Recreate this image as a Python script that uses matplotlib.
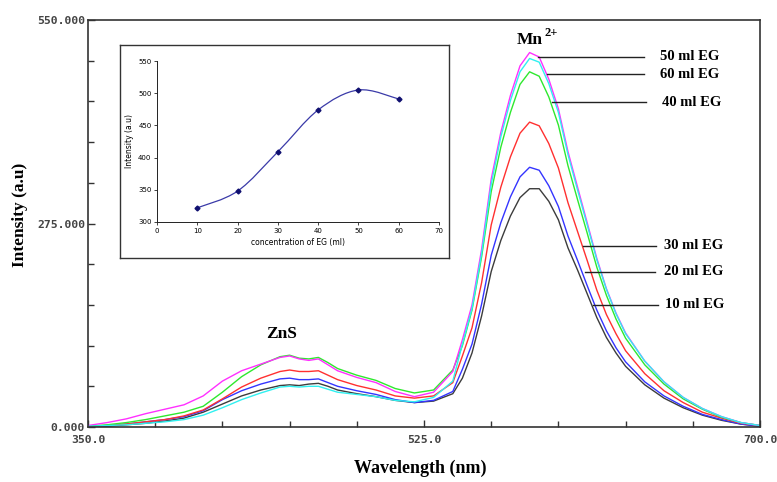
import matplotlib

matplotlib.use("Agg")

import matplotlib.pyplot as plt
import numpy as np
from matplotlib.patches import PathPatch
from matplotlib.path import Path
from matplotlib.ticker import MultipleLocator

# emission spectra, values
wavelength = [
    350, 360, 370, 380, 390, 400, 410, 420, 430, 440, 450, 455, 460, 465,
    470, 475, 480, 490, 500, 510, 520, 530, 540, 545, 550, 555, 560, 565,
    570, 575, 580, 585, 590, 595, 600, 605, 610, 615, 620, 625, 630, 640,
    650, 660, 670, 680, 690, 700,
]

eg_10ml = [
    0, 1, 3, 5, 8, 12, 20, 31, 42, 50, 56, 57, 56, 58,
    59, 55, 50, 45, 41, 36, 33, 35, 45, 66, 100, 150, 210, 252,
    285, 310, 322, 322, 305, 280, 242, 212, 180, 148, 121, 100, 82, 57,
    39, 26, 16, 9, 4, 1,
]
eg_20ml = [
    1, 2, 4, 7, 10, 14, 22, 37, 49, 58, 65, 66, 64, 64,
    65, 60, 55, 49, 44, 37, 33, 36, 48, 78, 112, 166, 232, 276,
    311, 338, 351, 347, 326, 298, 258, 225, 191, 158, 130, 107, 88, 61,
    42, 28, 17, 10, 4, 1,
]
eg_30ml = [
    1, 2, 4, 7, 10, 15, 23, 38, 54, 66, 75, 77, 75, 75,
    76, 70, 64, 56, 50, 42, 39, 42, 60, 96, 134, 195, 273, 324,
    365, 397, 412, 407, 383, 350, 303, 264, 225, 185, 152, 126, 103, 72,
    49, 33, 20, 12, 5, 2,
]
eg_40ml = [
    1, 3, 6, 10, 15, 20, 28, 47, 68, 84, 95, 97, 93, 92,
    94, 87, 79, 70, 63, 52, 46, 50, 77, 110, 158, 230, 318, 378,
    425, 463, 480, 474, 446, 408, 353, 307, 262, 216, 178, 146, 120, 84,
    58, 38, 24, 13, 6, 2,
]
eg_50ml = [
    2, 6, 11, 18, 24, 30, 42, 62, 76, 85, 94, 96, 92, 90,
    92, 84, 76, 67, 60, 48, 41, 47, 75, 118, 165, 240, 335, 398,
    448, 488, 506, 500, 470, 430, 372, 324, 276, 228, 187, 154, 127, 89,
    61, 40, 25, 14, 6, 2,
]
eg_60ml = [
    1, 2, 3, 5, 7, 10, 16, 26, 37, 46, 54, 55, 54, 55,
    55, 51, 47, 44, 41, 36, 34, 40, 62, 112, 160, 234, 328, 392,
    441, 480, 498, 493, 464, 425, 368, 320, 273, 226, 186, 153, 126, 89,
    61, 40, 25, 14, 6, 2,
]

series_names = ["10 ml EG", "20 ml EG", "30 ml EG", "40 ml EG", "50 ml EG", "60 ml EG"]
series_values = [eg_10ml, eg_20ml, eg_30ml, eg_40ml, eg_50ml, eg_60ml]
series_colors = ["#3c3c3c", "#3434ff", "#ff3030", "#2ee82e", "#ff30ff", "#30f0f0"]

# inset: peak intensity vs EG concentration
concentration = [10, 20, 30, 40, 50, 60]
peak_intensity = [322, 348, 409, 474, 505, 491]

# label name, curve point (x, y), line end x, text x
label_lines = [
    ("50 ml EG", 584.4, 500, 639.6, 648.0),
    ("60 ml EG", 589.1, 477, 639.6, 648.0),
    ("40 ml EG", 591.7, 439, 640.6, 649.0),
    ("30 ml EG", 607.8, 245, 645.8, 650.0),
    ("20 ml EG", 608.8, 210, 645.3, 650.0),
    ("10 ml EG", 613.0, 165, 646.9, 650.5),
]

W, H = 777, 482
SPINE = "#333333"
SERIF = ["Liberation Serif", "DejaVu Serif"]
MONO = ["DejaVu Sans Mono"]


def smooth_path(xs, ys):
    pts = np.column_stack([xs, ys]).astype(float)
    verts = [pts[0]]
    codes = [Path.MOVETO]
    n = len(pts)
    for i in range(n - 1):
        p0 = pts[max(i - 1, 0)]
        p1 = pts[i]
        p2 = pts[i + 1]
        p3 = pts[min(i + 2, n - 1)]
        verts += [p1 + (p2 - p0) / 6.0, p2 - (p3 - p1) / 6.0, p2]
        codes += [Path.CURVE4] * 3
    return Path(verts, codes)


fig = plt.figure(figsize=(W / 100, H / 100), dpi=100)
fig.patch.set_facecolor("white")

ax = fig.add_axes([88 / W, 1 - 427 / H, 672 / W, 407 / H])

for values, color in zip(series_values, series_colors):
    ax.plot(wavelength, values, color=color, lw=1.0)

ax.set_xlim(350, 700)
ax.set_ylim(0, 550)
ax.set_xticks([350, 525, 700])
ax.set_yticks([0, 275, 550])
ax.xaxis.set_minor_locator(MultipleLocator(35))
ax.yaxis.set_minor_locator(MultipleLocator(55))
ax.set_xticklabels(["350.0", "525.0", "700.0"])
ax.set_yticklabels(["0.000", "275.000", "550.000"])
ax.tick_params(which="both", direction="in", color=SPINE, width=1.0)
ax.tick_params(which="major", length=5)
ax.tick_params(which="minor", length=4)
ax.tick_params(axis="x", pad=6)
ax.tick_params(axis="y", pad=2)
for lab in ax.get_xticklabels() + ax.get_yticklabels():
    lab.set_family(MONO)
    lab.set_fontsize(8.2)
    lab.set_fontweight("bold")
    lab.set_color("#444444")
for side in ax.spines.values():
    side.set_color(SPINE)
    side.set_linewidth(1.2)

for name, x0, y0, x1, tx in label_lines:
    ax.plot([x0, x1], [y0, y0], color="#222222", lw=1.0)
    ax.text(tx, y0, name, ha="left", va="center", family=SERIF,
            fontweight="bold", fontsize=10.5)

ax.text(573.4, 523, "Mn", ha="left", va="center", family=SERIF,
        fontweight="bold", fontsize=12.5)
ax.text(588.0, 533, "2+", ha="left", va="center", family=SERIF,
        fontweight="bold", fontsize=9)
ax.text(442.7, 126, "ZnS", ha="left", va="center", family=SERIF,
        fontweight="bold", fontsize=12.5)

fig.text(420 / W, 1 - 468 / H, "Wavelength (nm)", ha="center", va="center",
         family=SERIF, fontweight="bold", fontsize=13)
fig.text(20 / W, 1 - 215 / H, "Intensity (a.u)", ha="center", va="center",
         rotation=90, family=SERIF, fontweight="bold", fontsize=12.5)

# inset frame
frame = fig.add_axes([120 / W, 1 - 258 / H, 329 / W, 213 / H])
frame.set_xticks([])
frame.set_yticks([])
frame.set_facecolor("white")
for side in frame.spines.values():
    side.set_color("#333333")
    side.set_linewidth(1.0)

inset = fig.add_axes([157 / W, 1 - 222 / H, 282 / W, 161 / H])
inset.set_facecolor("none")
inset.add_patch(PathPatch(smooth_path(concentration, peak_intensity),
                          facecolor="none", edgecolor="#3a3aa8", lw=0.9))
inset.plot(concentration, peak_intensity, ls="none", marker="D",
           ms=2.5, color="#101070")
inset.set_xlim(0, 70)
inset.set_ylim(300, 550)
inset.set_xticks(range(0, 71, 10))
inset.set_yticks(range(300, 551, 50))
inset.tick_params(direction="out", length=2, width=0.6, labelsize=5,
                  pad=2, color="#222222")
inset.spines["top"].set_visible(False)
inset.spines["right"].set_visible(False)
for side in ("left", "bottom"):
    inset.spines[side].set_linewidth(0.7)
    inset.spines[side].set_color("#222222")
inset.set_xlabel("concentration of EG (ml)", fontsize=5.5, labelpad=3)
inset.set_ylabel("Intensity (a.u)", fontsize=5.5, labelpad=3)

fig.savefig("out.png", dpi=100)
